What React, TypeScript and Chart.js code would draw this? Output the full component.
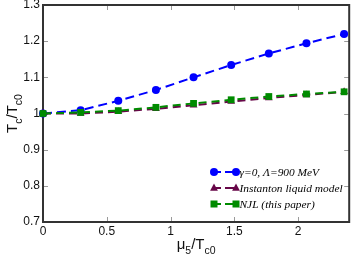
import React, { useEffect, useRef } from 'react';
import { Chart, registerables } from 'chart.js';

Chart.register(...registerables);

// ---- data ----
const muRatio = [0, 0.295, 0.59, 0.885, 1.18, 1.475, 1.77, 2.065, 2.36];
const gammaZero = [1.0, 1.009, 1.035, 1.065, 1.1, 1.134, 1.166, 1.194, 1.22];
const instanton = [1.0, 1.0, 1.005, 1.013, 1.023, 1.033, 1.043, 1.051, 1.06];
const njl = [1.0, 1.003, 1.008, 1.017, 1.028, 1.038, 1.047, 1.054, 1.06];
const seriesLabels = ['γ=0, Λ=900 MeV', 'Instanton liquid model', 'NJL (this paper)'];
const xTicks = [0, 0.5, 1, 1.5, 2];
const yTicks = [0.7, 0.8, 0.9, 1.0, 1.1, 1.2, 1.3];

const BLUE = '#0000ff';
const MAROON = '#670748';
const GREEN = '#008b00';
const SANS = '"Liberation Sans", Arial, sans-serif';
const SERIF = '"Liberation Serif", "Times New Roman", serif';

type Part = { t: string; sub?: boolean };

function drawRich(ctx: CanvasRenderingContext2D, parts: Part[], x: number, y: number) {
  const main = `15px ${SANS}`;
  const sub = `10.5px ${SANS}`;
  let total = 0;
  for (const p of parts) {
    ctx.font = p.sub ? sub : main;
    total += ctx.measureText(p.t).width;
  }
  let cx = x - total / 2;
  ctx.textAlign = 'left';
  ctx.textBaseline = 'alphabetic';
  for (const p of parts) {
    ctx.font = p.sub ? sub : main;
    ctx.fillText(p.t, cx, y + (p.sub ? 5 : 0));
    cx += ctx.measureText(p.t).width;
  }
}

function drawMarker(ctx: CanvasRenderingContext2D, style: string, x: number, y: number, color: string) {
  ctx.fillStyle = color;
  ctx.beginPath();
  if (style === 'circle') {
    ctx.arc(x, y, 4, 0, Math.PI * 2);
  } else if (style === 'triangle') {
    const r = 4.5;
    ctx.moveTo(x, y - r);
    ctx.lineTo(x + r * 0.866, y + r * 0.6);
    ctx.lineTo(x - r * 0.866, y + r * 0.6);
    ctx.closePath();
  } else {
    ctx.rect(x - 3.5, y - 3.5, 7, 7);
  }
  ctx.fill();
}

const framePlugin = {
  id: 'frameAndDecor',
  beforeDatasetsDraw(chart: any) {
    const { ctx, chartArea: a, scales } = chart;
    ctx.save();
    ctx.strokeStyle = '#9a9a9a';
    ctx.lineWidth = 1;
    ctx.beginPath();
    for (const v of xTicks) {
      const px = Math.round(scales.x.getPixelForValue(v)) + 0.5;
      ctx.moveTo(px, a.bottom);
      ctx.lineTo(px, a.bottom - 5);
      ctx.moveTo(px, a.top);
      ctx.lineTo(px, a.top + 5);
    }
    for (const v of yTicks) {
      const py = Math.round(scales.y.getPixelForValue(v)) + 0.5;
      ctx.moveTo(a.left, py);
      ctx.lineTo(a.left + 5, py);
      ctx.moveTo(a.right, py);
      ctx.lineTo(a.right - 5, py);
    }
    ctx.stroke();
    ctx.strokeStyle = '#333';
    ctx.lineWidth = 2;
    ctx.strokeRect(a.left, a.top, a.right - a.left, a.bottom - a.top);
    ctx.restore();
  },
  afterDraw(chart: any) {
    const { ctx, chartArea: a } = chart;
    ctx.save();
    ctx.fillStyle = '#111';
    // x title
    drawRich(ctx, [{ t: 'μ' }, { t: '5', sub: true }, { t: '/T' }, { t: 'c0', sub: true }], (a.left + a.right) / 2, 249);
    // y title
    ctx.save();
    ctx.translate(17, (a.top + a.bottom) / 2);
    ctx.rotate(-Math.PI / 2);
    drawRich(ctx, [{ t: 'T' }, { t: 'c', sub: true }, { t: '/T' }, { t: 'c0', sub: true }], 0, 0);
    ctx.restore();

    // legend
    const rows = [
      { label: seriesLabels[0], color: BLUE, style: 'circle', y: 172 },
      { label: seriesLabels[1], color: MAROON, style: 'triangle', y: 188 },
      { label: seriesLabels[2], color: GREEN, style: 'rect', y: 204 },
    ];
    for (const r of rows) {
      ctx.strokeStyle = r.color;
      ctx.lineWidth = 2;
      ctx.beginPath();
      ctx.moveTo(214, r.y);
      ctx.lineTo(221, r.y);
      ctx.moveTo(225, r.y);
      ctx.lineTo(236, r.y);
      ctx.stroke();
      drawMarker(ctx, r.style, 214, r.y, r.color);
      drawMarker(ctx, r.style, 236, r.y, r.color);
      ctx.fillStyle = '#000';
      ctx.font = `italic 11.4px ${SERIF}`;
      ctx.textAlign = 'left';
      ctx.textBaseline = 'middle';
      ctx.fillText(r.label, 239.5, r.y + 0.5);
    }
    ctx.restore();
  },
};

export default function App() {
  const canvasRef = useRef<HTMLCanvasElement | null>(null);

  useEffect(() => {
    document.body.style.margin = '0';
    const canvas = canvasRef.current;
    if (!canvas) return;
    const mk = (vals: number[]) => muRatio.map((x, i) => ({ x, y: vals[i] }));
    const tickFmt = (v: any) => String(Number(Number(v).toFixed(2)));
    const chart = new Chart(canvas, {
      type: 'line',
      data: {
        datasets: [
          {
            label: seriesLabels[0],
            data: mk(gammaZero),
            borderColor: BLUE,
            backgroundColor: BLUE,
            borderWidth: 2,
            borderDash: [9, 5],
            pointStyle: 'circle',
            pointRadius: 4,
            pointBorderWidth: 0,
            order: 2,
            clip: false as any,
          },
          {
            label: seriesLabels[1],
            data: mk(instanton),
            borderColor: MAROON,
            backgroundColor: MAROON,
            borderWidth: 2,
            borderDash: [8, 5],
            pointStyle: 'triangle',
            pointRadius: 4.5,
            pointBorderWidth: 0,
            order: 1,
            clip: false as any,
          },
          {
            label: seriesLabels[2],
            data: mk(njl),
            borderColor: GREEN,
            backgroundColor: GREEN,
            borderWidth: 2,
            borderDash: [8, 5],
            pointStyle: 'rect',
            pointRadius: 4.8,
            pointBorderWidth: 0,
            order: 0,
            clip: false as any,
          },
        ],
      },
      options: {
        responsive: false,
        animation: false,
        devicePixelRatio: 1,
        layout: { padding: { top: 5, right: 1, left: 0, bottom: 0 } },
        plugins: { legend: { display: false }, tooltip: { enabled: false } },
        elements: { line: { tension: 0, fill: false } },
        scales: {
          x: {
            type: 'linear',
            min: 0,
            max: 2.4,
            afterBuildTicks: (s: any) => {
              s.ticks = xTicks.map((v) => ({ value: v }));
            },
            afterFit: (s: any) => {
              s.height = 36;
              s.paddingLeft = 0;
              s.paddingRight = 0;
            },
            grid: { display: false, drawTicks: false, tickLength: 0 },
            border: { display: false },
            ticks: {
              autoSkip: false,
              maxRotation: 0,
              padding: 2,
              color: '#111',
              font: { family: SANS, size: 12 },
              callback: tickFmt,
            },
          },
          y: {
            type: 'linear',
            min: 0.7,
            max: 1.3,
            afterBuildTicks: (s: any) => {
              s.ticks = yTicks.map((v) => ({ value: v }));
            },
            afterFit: (s: any) => {
              s.width = 43;
              s.paddingTop = 0;
              s.paddingBottom = 0;
            },
            grid: { display: false, drawTicks: false, tickLength: 0 },
            border: { display: false },
            ticks: {
              autoSkip: false,
              padding: 3,
              color: '#111',
              font: { family: SANS, size: 12 },
              callback: tickFmt,
            },
          },
        },
      },
      plugins: [framePlugin],
    });
    return () => chart.destroy();
  }, []);

  return (
    <div style={{ width: 354, height: 258 }}>
      <canvas ref={canvasRef} width={354} height={258} style={{ display: 'block' }} />
    </div>
  );
}
